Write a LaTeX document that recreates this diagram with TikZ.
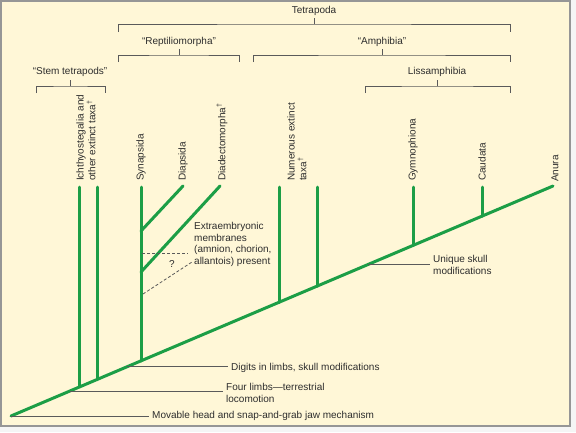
\documentclass[tikz,border=0pt]{standalone}
\usepackage{fontspec}
\setmainfont{Liberation Sans}
\usetikzlibrary{calc}
\definecolor{cgreen}{RGB}{28,158,70}
\definecolor{cream}{RGB}{255,247,215}
\definecolor{framegray}{RGB}{150,150,150}
\definecolor{txt}{RGB}{45,45,45}
\definecolor{brgray}{RGB}{90,90,90}
\tikzset{
  clade/.style={cgreen, line width=3pt, line cap=round},
  br/.style={brgray, line width=1pt},
  ann/.style={brgray, line width=0.9pt},
  dsh/.style={brgray, line width=0.8pt, dash pattern=on 3pt off 2pt},
  lbl/.style={text=txt, font=\fontsize{10}{11.8}\selectfont, inner sep=0pt, align=left},
  vlbl/.style={lbl, rotate=90, anchor=west},
  albl/.style={lbl, anchor=west, inner xsep=3pt},
}
\begin{document}
\begin{tikzpicture}[x=1pt,y=-1pt]
\useasboundingbox (0,0) rectangle (576,432);
\fill[white!96!black] (0,0) rectangle (576,432);
\filldraw[fill=cream, draw=framegray, line width=1.5pt] (1,1) rectangle (570,426);

% trunk
\coordinate (root) at (11,416);
\coordinate (anura) at (553,186);
\coordinate (top) at (0,187);
\draw[clade] (root) -- (anura);

% junctions on the trunk
\coordinate (jI) at ($(root)!0.1273!(anura)$);
\coordinate (jO) at ($(root)!0.1587!(anura)$);
\coordinate (jS) at ($(root)!0.2399!(anura)$);
\coordinate (jN1) at ($(root)!0.4945!(anura)$);
\coordinate (jN2) at ($(root)!0.5646!(anura)$);
\coordinate (jG) at ($(root)!0.7417!(anura)$);
\coordinate (jC) at ($(root)!0.8690!(anura)$);
\coordinate (aU) at ($(root)!0.6587!(anura)$);
\coordinate (aD) at ($(root)!0.2140!(anura)$);
\coordinate (aF) at ($(root)!0.1089!(anura)$);

% vertical branches
\draw[clade] (jI) -- (jI |- top);
\draw[clade] (jO) -- (jO |- top);
\draw[clade] (jS) -- (jS |- top);
\draw[clade] (jN1) -- (jN1 |- top);
\draw[clade] (jN2) -- (jN2 |- top);
\draw[clade] (jG) -- (jG |- top);
\draw[clade] (jC) -- (jC |- top);

% reptiliomorph side branches
\coordinate (sDi) at (141,231);
\coordinate (tDi) at (183,186);
\coordinate (sDd) at (141,272);
\coordinate (tDd) at (220,186);
\draw[clade] (sDi) -- (tDi);
\draw[clade] (sDd) -- (tDd);

% dashed lines
\coordinate (d1a) at (142,253);
\coordinate (d1b) at (188,253);
\coordinate (d2a) at (143,294);
\coordinate (d2b) at (192,262);
\draw[dsh] (d1a) -- (d1b);
\draw[dsh] (d2a) -- (d2b);
\node[lbl] (q) at (172,264) {?};

% branch labels (rotated)
\node[vlbl] (lI) at (86,181) {Ichthyostegalia and\\other extinct taxa\textsuperscript{†}};
\node[vlbl] (lS) at (141,181) {Synapsida};
\node[vlbl] (lDi) at (183,181) {Diapsida};
\node[vlbl] (lDd) at (222,181) {Diadectomorpha\textsuperscript{†}};
\node[vlbl] (lN) at (297,181) {Numerous extinct\\taxa\textsuperscript{†}};
\node[vlbl] (lG) at (413,181) {Gymnophiona};
\node[vlbl] (lC) at (482,181) {Caudata};
\node[vlbl] (lA) at (555,182) {Anura};

% character annotations
\node[lbl, anchor=west] (tE) at (194,244.5) {Extraembryonic\\membranes\\(amnion, chorion,\\allantois) present};
\node[albl] (tU) at (430,265) {Unique skull\\modifications};
\node[albl] (tD) at (228,368) {Digits in limbs, skull modifications};
\node[albl] (tF) at (223,393) {Four limbs—terrestrial\\locomotion};
\node[albl] (tM) at (149,416) {Movable head and snap-and-grab jaw mechanism};
\draw[ann] (aU) -- (aU -| tU.west);
\draw[ann] (aD) -- (aD -| tD.west);
\draw[ann] (aF) -- (aF -| tF.west);
\draw[ann] (root) -- (root -| tM.west);

% brackets
\node[lbl] (bT) at (314,11) {Tetrapoda};
\node[lbl] (bR) at (179,42) {“Reptiliomorpha”};
\node[lbl] (bA) at (382,42) {“Amphibia”};
\node[lbl] (bS) at (70,72) {“Stem tetrapods”};
\node[lbl] (bL) at (437,72) {Lissamphibia};

\coordinate (kT1) at (118,32);
\coordinate (kT2) at (510,32);
\draw[br] (kT1) |- (bT |- 0,24) -| (kT2);
\draw[br] (bT |- 0,24) -- (bT |- 0,18);

\coordinate (kR1) at (118,62);
\coordinate (kR2) at (239,62);
\draw[br] (kR1) |- (bR |- 0,55) -| (kR2);
\draw[br] (bR |- 0,55) -- (bR |- 0,49);

\coordinate (kA1) at (253,62);
\coordinate (kA2) at (510,62);
\draw[br] (kA1) |- (bA |- 0,55) -| (kA2);
\draw[br] (bA |- 0,55) -- (bA |- 0,49);

\coordinate (kS1) at (36,93);
\coordinate (kS2) at (105,93);
\draw[br] (kS1) |- (bS |- 0,86) -| (kS2);
\draw[br] (bS |- 0,86) -- (bS |- 0,80);

\coordinate (kL1) at (365,93);
\coordinate (kL2) at (510,93);
\draw[br] (kL1) |- (bL |- 0,86) -| (kL2);
\draw[br] (bL |- 0,86) -- (bL |- 0,80);
\end{tikzpicture}
\end{document}
